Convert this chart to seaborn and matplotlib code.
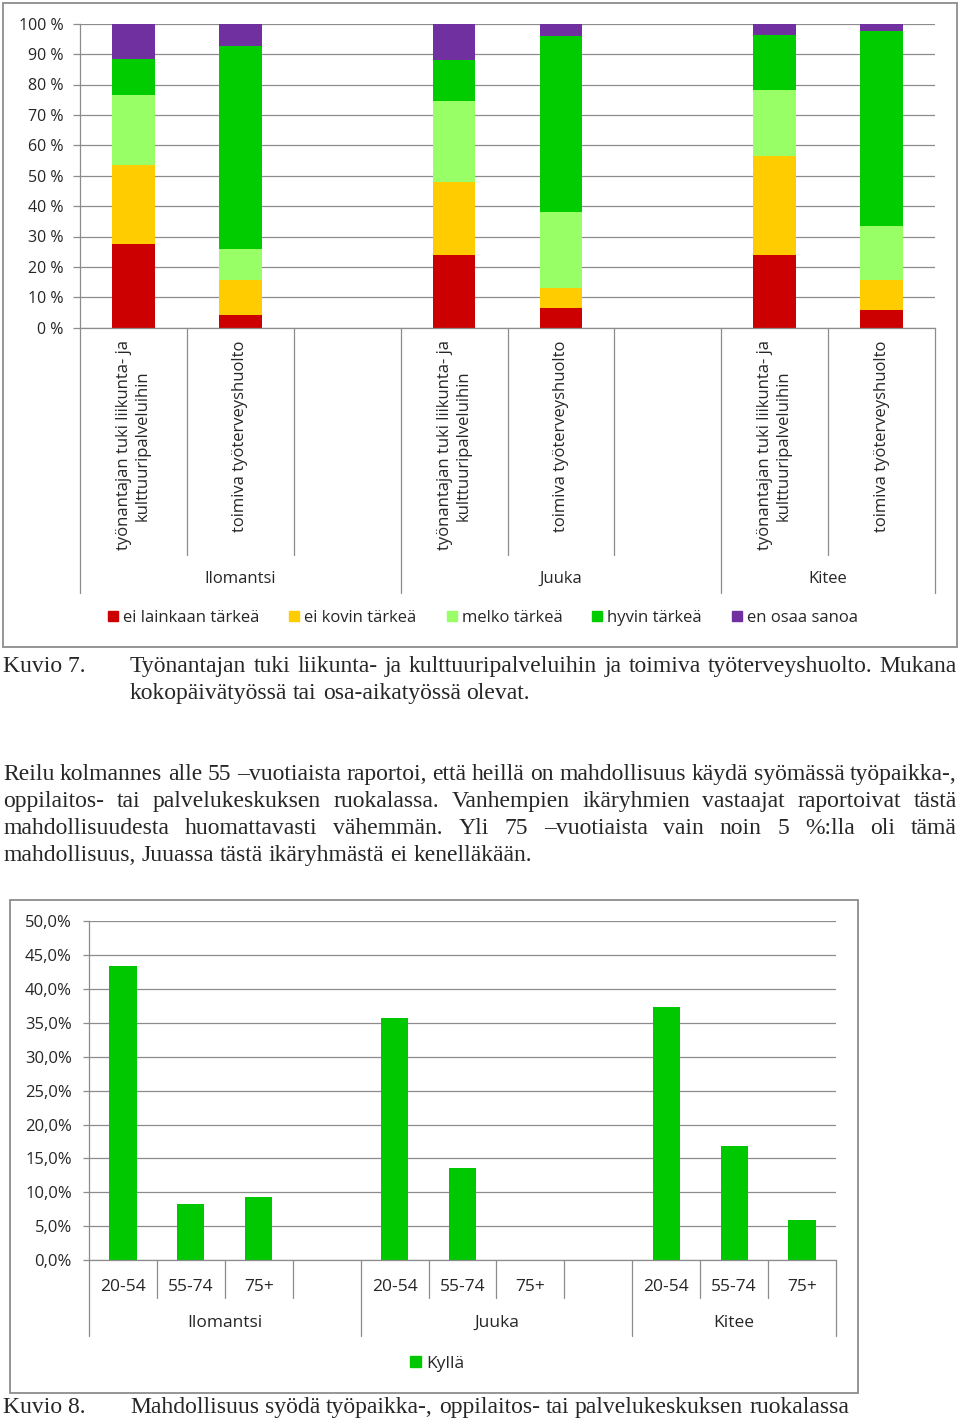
import matplotlib
matplotlib.use("Agg")
import matplotlib.pyplot as plt
import seaborn as sns
import numpy as np
from matplotlib.patches import Patch, Rectangle

sns.set_theme(style="white")
plt.rcParams['font.family'] = ['Open Sans', 'DejaVu Sans']
SERIF = ['Liberation Serif', 'DejaVu Serif']

W, H = 960, 1427
GRAY = "#8c8c8c"

# ---------------- data: chart 1 (Kuvio 7) ----------------
groups1 = ["Ilomantsi", "Juuka", "Kitee"]
items1 = ["työnantajan tuki liikunta- ja\nkulttuuripalveluihin", "toimiva työterveyshuolto"]
levels1 = ["ei lainkaan tärkeä", "ei kovin tärkeä", "melko tärkeä", "hyvin tärkeä", "en osaa sanoa"]
ei_lainkaan = [27.6, 4.3, 23.9, 6.4, 23.9, 5.8]
ei_kovin = [25.8, 11.5, 24.1, 6.7, 32.6, 9.8]
melko = [23.2, 10.0, 26.7, 25.1, 21.7, 17.8]
hyvin = [11.7, 67.0, 13.4, 57.9, 18.2, 64.2]
en_osaa = [11.7, 7.2, 11.9, 3.9, 3.6, 2.4]
colors1 = ["#CC0000", "#FFCC00", "#99FF66", "#00CC00", "#7030A0"]
yticks1 = list(range(0, 101, 10))

# ---------------- data: chart 2 (Kuvio 8) ----------------
groups2 = ["Ilomantsi", "Juuka", "Kitee"]
ages2 = ["20-54", "55-74", "75+"]
kylla = [43.4, 8.3, 9.3, 35.7, 13.6, 0.0, 37.3, 16.9, 5.9]
color2 = "#00C800"
yticks2 = list(range(0, 51, 5))

# ---------------- text ----------------
cap7_lines = ["Työnantajan tuki liikunta- ja kulttuuripalveluihin ja toimiva työterveyshuolto. Mukana",
              "kokopäivätyössä tai osa-aikatyössä olevat."]
para_lines = ["Reilu kolmannes alle 55 –vuotiaista raportoi, että heillä on mahdollisuus käydä syömässä työpaikka-,",
              "oppilaitos- tai palvelukeskuksen ruokalassa. Vanhempien ikäryhmien vastaajat raportoivat tästä",
              "mahdollisuudesta huomattavasti vähemmän. Yli 75 –vuotiaista vain noin 5 %:lla oli tämä",
              "mahdollisuus, Juuassa tästä ikäryhmästä ei kenelläkään."]
cap8_text = "Mahdollisuus syödä työpaikka-, oppilaitos- tai palvelukeskuksen ruokalassa"

fig = plt.figure(figsize=(W / 100, H / 100), dpi=100)
fig.patch.set_facecolor("white")


def fx(px):
    return px / W


def fy(py):
    return 1 - py / H


def frame(x0, y0, x1, y1):
    fig.add_artist(Rectangle((fx(x0), fy(y1)), fx(x1 - x0), (y1 - y0) / H, fill=False,
                             ec=GRAY, lw=1.3, transform=fig.transFigure))


frame(3, 3, 957, 647)
frame(10, 900, 858, 1393)

# ---------------- chart 1 ----------------
ax1 = fig.add_axes([fx(80), fy(327.7), fx(855), 304 / H])
pos1 = [g * 3 + j for g in range(len(groups1)) for j in range(len(items1))]
stack = np.cumsum([ei_lainkaan, ei_kovin, melko, hyvin, en_osaa], axis=0)
for k in reversed(range(len(levels1))):
    sns.barplot(x=pos1, y=stack[k], native_scale=True, color=colors1[k], saturation=1,
                width=0.4, linewidth=0, ax=ax1)
ax1.set_xlim(-0.5, 7.5)
ax1.set_ylim(0, 100)
ax1.set_axisbelow(True)
ax1.set_yticks(yticks1, labels=[f"{v} %" for v in yticks1])
ax1.yaxis.grid(True, color=GRAY, lw=0.9)
ax1.tick_params(axis="y", length=5, width=0.9, color=GRAY, pad=7, labelsize=11.5, left=True)
ax1.set_xticks(pos1, labels=items1 * len(groups1), rotation=90, fontsize=12,
               ha="center", va="top", multialignment="center")
ax1.tick_params(axis="x", length=0, pad=9)
for s in ["top", "right"]:
    ax1.spines[s].set_visible(False)
for s in ["left", "bottom"]:
    ax1.spines[s].set_color(GRAY)
    ax1.spines[s].set_linewidth(0.9)
ax1.set_xlabel("")
ax1.set_ylabel("")
xt = ax1.get_xaxis_transform()
gb1 = [-0.5, 2.5, 5.5, 7.5]
for b in np.arange(-0.5, 7.6, 1.0):
    yb = (327.7 - 592.7) / 304 if b in gb1 else (327.7 - 555) / 304
    ax1.plot([b, b], [0, yb], transform=xt, clip_on=False, color=GRAY, lw=0.9)
for i, g in enumerate(groups1):
    c = (gb1[i] + gb1[i + 1]) / 2
    ax1.text(c, (327.7 - 579) / 304, g, transform=xt, ha="center", va="center", fontsize=12)

fig.legend(handles=[Patch(color=c, label=l) for c, l in zip(colors1, levels1)],
           loc="center", bbox_to_anchor=(fx(483), fy(618)), ncol=5, frameon=False,
           handlelength=0.6, handleheight=0.6, handletextpad=0.3, columnspacing=1.8,
           fontsize=12)

# ---------------- chart 2 ----------------
ax2 = fig.add_axes([fx(89), fy(1260), fx(747), 338.7 / H])
pos2 = [g * 4 + j for g in range(len(groups2)) for j in range(len(ages2))]
sns.barplot(x=pos2, y=kylla, native_scale=True, color=color2, saturation=1,
            width=0.4, linewidth=0, ax=ax2)
ax2.set_xlim(-0.5, 10.5)
ax2.set_ylim(0, 50)
ax2.set_axisbelow(True)
ax2.set_yticks(yticks2, labels=[f"{v:.1f}%".replace(".", ",") for v in yticks2])
ax2.yaxis.grid(True, color=GRAY, lw=0.9)
ax2.tick_params(axis="y", length=4.3, width=0.9, color=GRAY, pad=8, labelsize=12, left=True)
ax2.set_xticks(pos2, labels=ages2 * len(groups2), fontsize=12.5)
ax2.tick_params(axis="x", length=0, pad=14)
for s in ["top", "right"]:
    ax2.spines[s].set_visible(False)
for s in ["left", "bottom"]:
    ax2.spines[s].set_color(GRAY)
    ax2.spines[s].set_linewidth(0.9)
ax2.set_xlabel("")
ax2.set_ylabel("")
xt2 = ax2.get_xaxis_transform()
gb2 = [-0.5, 3.5, 7.5, 10.5]
for b in np.arange(-0.5, 10.6, 1.0):
    yb = (1260 - 1336) / 338.7 if b in gb2 else (1260 - 1298) / 338.7
    ax2.plot([b, b], [0, yb], transform=xt2, clip_on=False, color=GRAY, lw=0.9)
for i, g in enumerate(groups2):
    c = (gb2[i] + gb2[i + 1]) / 2
    ax2.text(c, (1260 - 1323) / 338.7, g, transform=xt2, ha="center", va="center", fontsize=12.5)

fig.legend(handles=[Patch(color=color2, label="Kyllä")], loc="center",
           bbox_to_anchor=(fx(437), fy(1364)), frameon=False,
           handlelength=0.6, handleheight=0.6, handletextpad=0.3, fontsize=12.5)

# ---------------- body text ----------------
FS = 17
renderer = fig.canvas.get_renderer()


def measure(s):
    t = fig.text(0, 0, s, fontsize=FS, family=SERIF)
    w = t.get_window_extent(renderer).width
    t.remove()
    return w


SPACE = measure("a a") - measure("aa")


def line(s, x0, yb, x1=None):
    words = s.split(" ")
    texts = [fig.text(0, fy(yb), w, fontsize=FS, family=SERIF, va="baseline") for w in words]
    widths = [t.get_window_extent(renderer).width for t in texts]
    if x1 is not None and len(words) > 1:
        gap = (x1 - x0 - sum(widths)) / (len(words) - 1)
    else:
        gap = SPACE
    x = x0
    for t, w in zip(texts, widths):
        t.set_x(fx(x))
        x += w + gap


fig.text(fx(3), fy(672), "Kuvio 7.", fontsize=FS, family=SERIF, va="baseline")
line(cap7_lines[0], 130, 672, 957)
line(cap7_lines[1], 130, 699)
for i, s in enumerate(para_lines):
    line(s, 3, 780 + 27 * i, 957 if i < len(para_lines) - 1 else None)
fig.text(fx(3), fy(1413), "Kuvio 8.", fontsize=FS, family=SERIF, va="baseline")
line(cap8_text, 130, 1413)

fig.savefig("out.png", dpi=100)
